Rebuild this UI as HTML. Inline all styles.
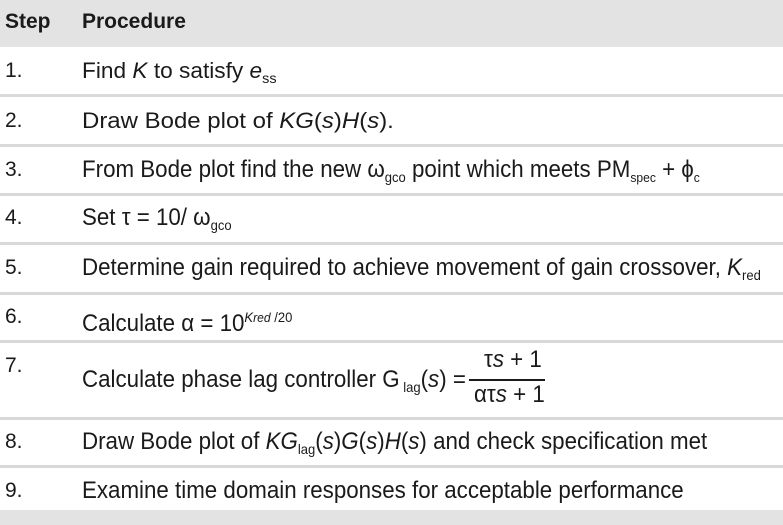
<!DOCTYPE html>
<html><head><style>
body{margin:0;width:783px;height:525px;background:#fff;position:relative;overflow:hidden;font-family:"Liberation Sans",sans-serif;color:#1a1a1a}
.hd{position:absolute;left:0;top:0;width:783px;height:47px;background:#e3e3e3}
.sep{position:absolute;left:0;width:783px;height:3px;background:#d9d9d9}
.t{position:absolute;font-size:22px;white-space:nowrap;line-height:22px;transform-origin:0 50%}
.n{position:absolute;left:5px;font-size:21px;line-height:20px}
.c{font-size:24px;line-height:24px;transform:scaleX(0.93)}
sub{font-size:14px;vertical-align:-5px}
sup{font-size:14px;vertical-align:9px}
i{font-style:italic}
</style></head><body>
<div class="hd"></div>
<div class="t" style="left:5px;top:11px;font-weight:bold;font-size:21px">Step</div>
<div class="t" style="left:82px;top:11px;font-weight:bold;font-size:21px">Procedure</div>
<div class="sep" style="top:94px"></div>
<div class="sep" style="top:144px"></div>
<div class="sep" style="top:193px"></div>
<div class="sep" style="top:242px"></div>
<div class="sep" style="top:292px"></div>
<div class="sep" style="top:340px"></div>
<div class="sep" style="top:417px"></div>
<div class="sep" style="top:465px"></div>
<div class="hd" style="top:510px;height:15px"></div>

<div class="n" style="top:61px">1.</div>
<div class="t" style="left:82px;top:60px;transform:scaleX(1.03)">Find <i>K</i> to satisfy <i>e</i><sub>ss</sub></div>
<div class="n" style="top:111px">2.</div>
<div class="t" style="left:82px;top:110px;transform:scaleX(1.09)">Draw Bode plot of <i>KG</i>(<i>s</i>)<i>H</i>(<i>s</i>).</div>
<div class="n" style="top:160px">3.</div>
<div class="t c" style="left:82px;top:158px">From Bode plot find the new ω<sub>gco</sub> point which meets PM<sub style="font-size:13px">spec</sub> + ϕ<sub style="font-size:13px">c</sub></div>
<div class="n" style="top:208px">4.</div>
<div class="t c" style="left:82px;top:206px">Set τ = 10/ ω<sub>gco</sub></div>
<div class="n" style="top:258px">5.</div>
<div class="t c" style="left:82px;top:256px">Determine gain required to achieve movement of gain crossover, <i>K</i><sub>red</sub></div>
<div class="n" style="top:307px">6.</div>
<div class="t c" style="left:82px;top:305px">Calculate α = 10<sup><i>K</i><i style="font-size:13px">red</i> /20</sup></div>
<div class="n" style="top:356px">7.</div>
<div class="t c" style="left:82px;top:368px">Calculate phase lag controller G<sub> lag</sub>(<i>s</i>) =</div>
<div class="t c" style="left:484px;top:348px">τ<i>s</i> + 1</div>
<div style="position:absolute;left:469px;top:379px;width:76px;height:2px;background:#1a1a1a"></div>
<div class="t c" style="left:474px;top:383px">ατ<i>s</i> + 1</div>
<div class="n" style="top:432px">8.</div>
<div class="t c" style="left:82px;top:430px">Draw Bode plot of <i>KG</i><sub>lag</sub>(<i>s</i>)<i>G</i>(<i>s</i>)<i>H</i>(<i>s</i>) and check specification met</div>
<div class="n" style="top:481px">9.</div>
<div class="t c" style="left:82px;top:479px">Examine time domain responses for acceptable performance</div>
</body></html>
